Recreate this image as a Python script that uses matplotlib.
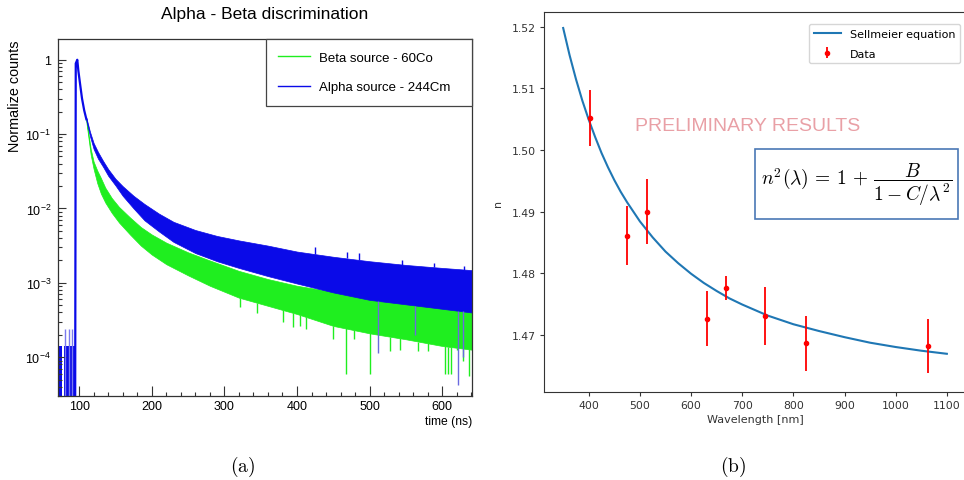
#!/usr/bin/env python3
"""Two-panel figure: alpha/beta pulse shapes (a) and Sellmeier fit of refractive index (b)."""

import matplotlib

matplotlib.use("Agg")
import matplotlib.pyplot as plt
import matplotlib.ticker as mticker
from matplotlib.patches import Rectangle
import numpy as np


# ---- panel (a): pulse shapes, values as log10(normalized counts)
rise_t = [94.6, 95.4, 97.5, 99.0, 101.0, 104.0, 107.0, 110.0]
rise_log = [-4.53, -0.05, 0.0, -0.15, -0.30, -0.52, -0.68, -0.80]

alpha_t = [110, 115, 120, 126, 133, 140, 150, 160, 175, 190, 210, 230, 260, 290, 320, 360, 400, 450, 500, 550, 600, 641]
alpha_hi = [-0.78, -0.97, -1.12, -1.24, -1.36, -1.47, -1.60, -1.70, -1.83, -1.94, -2.07, -2.18, -2.29, -2.37, -2.43,
            -2.50, -2.58, -2.65, -2.71, -2.76, -2.80, -2.83]
alpha_lo = [-0.82, -1.03, -1.20, -1.33, -1.44, -1.56, -1.69, -1.83, -2.00, -2.16, -2.31, -2.45, -2.60, -2.71, -2.80,
            -2.91, -3.01, -3.13, -3.23, -3.29, -3.35, -3.40]

beta_t = [110, 113, 116, 120, 125, 130, 136, 145, 155, 170, 185, 200, 220, 250, 280, 320, 360, 400, 450, 500, 550, 600, 641]
beta_hi = [-0.80, -1.00, -1.20, -1.37, -1.49, -1.59, -1.72, -1.86, -1.98, -2.12, -2.25, -2.35, -2.46, -2.59, -2.70,
           -2.84, -2.95, -3.04, -3.12, -3.19, -3.24, -3.28, -3.30]
beta_lo = [-0.84, -1.06, -1.28, -1.47, -1.66, -1.80, -1.92, -2.06, -2.19, -2.35, -2.50, -2.62, -2.75, -2.90, -3.04,
           -3.20, -3.31, -3.42, -3.58, -3.68, -3.76, -3.85, -3.90]

beta_spike_t = [322, 345, 381, 395, 404, 412, 450, 467, 478, 500, 528, 542, 567, 581, 604, 608, 612, 620, 629, 637]
beta_spike_log = [-3.33, -3.40, -3.53, -3.60, -3.58, -3.62, -3.76, -4.23, -3.76, -4.23, -3.92, -3.90, -3.92, -3.92,
                  -4.23, -4.23, -4.23, -3.90, -4.05, -4.25]
alpha_spike_t = [511, 563, 622, 628]
alpha_spike_log = [-3.95, -3.70, -4.37, -4.00]
alpha_peak_t = [425, 469, 485, 545, 588, 630]
alpha_peak_log = [-2.52, -2.58, -2.60, -2.70, -2.74, -2.78]

base_t0 = [71.0, 79.5]
base_t1 = [76.5, 94.6]
base_log = -3.85
base_bar_t = [81.0, 86.0, 90.0]
base_bar_log = -3.62

# ---- panel (b): refractive index vs wavelength
wl = [403, 475, 514, 632, 669, 745, 824, 1063]
n_val = [1.5052, 1.4861, 1.4900, 1.4726, 1.4776, 1.4730, 1.4686, 1.4682]
n_err = [0.0046, 0.0048, 0.0053, 0.0045, 0.0020, 0.0047, 0.0045, 0.0044]

fit_wl = [350, 362.5, 375, 387.5, 400, 412.5, 425, 437.5, 450, 462.5, 475, 500, 525, 550, 575, 600, 625, 650,
          675, 700, 725, 750, 800, 850, 900, 950, 1000, 1050, 1100]
fit_n = [1.5198, 1.5154, 1.5115, 1.5080, 1.5049, 1.5021, 1.4995, 1.4972, 1.4951, 1.4932, 1.4915, 1.4884, 1.4858,
         1.4835, 1.4816, 1.4799, 1.4784, 1.4771, 1.4759, 1.4749, 1.4740, 1.4731, 1.4717, 1.4706, 1.4696, 1.4687,
         1.4680, 1.4674, 1.4669]

GREEN = "#1fee1f"
BLUE = "#0a0ae8"


def tick_fmt(v, pos):
    e = int(round(np.log10(v)))
    return "1" if e == 0 else r"$10^{%d}$" % e


def panel_a(fig):
    ax = fig.add_axes([0.0602, 0.1746, 0.4295, 0.7422])
    ax.set_yscale("log")

    ax.fill_between(beta_t, 10 ** np.array(beta_lo), 10 ** np.array(beta_hi), color=GREEN, lw=0.5)
    lo_at = np.interp(beta_spike_t, beta_t, beta_lo)
    ax.vlines(beta_spike_t, 10 ** np.array(beta_spike_log), 10 ** lo_at, color=GREEN, lw=1.0)

    ax.fill_between(alpha_t, 10 ** np.array(alpha_lo), 10 ** np.array(alpha_hi), color=BLUE, lw=0.5)
    lo_at = np.interp(alpha_spike_t, alpha_t, alpha_lo)
    ax.vlines(alpha_spike_t, 10 ** np.array(alpha_spike_log), 10 ** lo_at, color="#6a6ae0", lw=1.0)
    hi_at = np.interp(alpha_peak_t, alpha_t, alpha_hi)
    ax.vlines(alpha_peak_t, 10 ** hi_at, 10 ** np.array(alpha_peak_log), color=BLUE, lw=1.0)

    ax.plot(rise_t, 10 ** np.array(rise_log), color=BLUE, lw=1.6)
    for t0, t1 in zip(base_t0, base_t1):
        ax.fill_between([t0, t1], 1e-6, 10 ** base_log, color=BLUE, lw=0)
    ax.vlines(base_bar_t, 1e-6, 10 ** base_bar_log, color="#7a7aee", lw=1.0)

    ax.set_xlim(71, 641)
    ax.set_ylim(3e-5, 1.9)

    ax.xaxis.set_major_locator(mticker.MultipleLocator(100))
    ax.xaxis.set_minor_locator(mticker.MultipleLocator(20))
    ax.yaxis.set_major_locator(mticker.LogLocator(base=10))
    ax.yaxis.set_minor_locator(mticker.LogLocator(base=10, subs=np.arange(2, 10)))
    ax.yaxis.set_major_formatter(mticker.FuncFormatter(tick_fmt))
    ax.yaxis.set_minor_formatter(mticker.NullFormatter())
    ax.tick_params(which="both", direction="in", top=False, right=False, labelsize=9, width=0.8, color="#333333")
    ax.tick_params(axis="x", which="major", length=7.5, pad=3)
    ax.tick_params(axis="x", which="minor", length=3.2)
    ax.tick_params(axis="y", which="major", length=6, pad=5)
    ax.tick_params(axis="y", which="minor", length=3)
    for sp in ax.spines.values():
        sp.set_color("#333333")
        sp.set_linewidth(0.9)

    ax.set_xlabel("time (ns)", fontsize=8.7, loc="right", labelpad=2)
    fig.text(15 / 964, 1 - 41 / 481, "Normalize counts", rotation=90, ha="center", va="top", fontsize=10.4)
    fig.text(265 / 964, 1 - 15 / 481, "Alpha - Beta discrimination", ha="center", va="center", fontsize=12.5)

    h = [plt.Line2D([], [], color=GREEN, lw=1.0), plt.Line2D([], [], color=BLUE, lw=1.0)]
    leg = ax.legend(h, ["Beta source - 60Co", "Alpha source - 244Cm"], loc="upper left",
                    bbox_to_anchor=(0.502, 0.0, 0.498, 1.0), mode="expand", borderaxespad=0,
                    fancybox=False, framealpha=1, edgecolor="#444444", fontsize=9.5,
                    borderpad=0.95, labelspacing=1.3, handlelength=2.4, handletextpad=0.7)
    leg.get_frame().set_linewidth(0.9)


def panel_b(fig):
    ax = fig.add_axes([0.5643, 0.1830, 0.4378, 0.790])
    ax.plot(fit_wl, fit_n, color="#1f77b4", lw=1.5, label="Sellmeier equation")
    ax.errorbar(wl, n_val, yerr=n_err, fmt="o", color="red", ms=3, elinewidth=1.3, capsize=0, label="Data")
    ax.set_xlim(312.5, 1137.5)
    ax.set_ylim(1.4607, 1.5224)
    ax.xaxis.set_major_locator(mticker.MultipleLocator(100))
    ax.yaxis.set_major_locator(mticker.MultipleLocator(0.01))
    ax.yaxis.set_major_formatter(mticker.FormatStrFormatter("%.2f"))
    ax.tick_params(labelsize=7.8, length=3, pad=3, colors="#333333")
    for sp in ax.spines.values():
        sp.set_color("#333333")
    ax.set_xlabel("Wavelength [nm]", fontsize=8, labelpad=3, color="#333333")
    ax.set_ylabel("n", fontsize=8, labelpad=6, color="#333333")
    ax.legend(loc="upper right", bbox_to_anchor=(0.986, 0.968), borderaxespad=0, fontsize=8,
              labelspacing=0.9, handlelength=2.5)

    ax.text(0.482, 0.700, "PRELIMINARY RESULTS", transform=ax.transAxes, ha="center", va="center",
            fontsize=14, color="#e9a0a6", family="Liberation Sans")
    ax.add_patch(Rectangle((0.500, 0.455), 0.481, 0.184, transform=ax.transAxes, facecolor="white",
                           edgecolor="#4a78b5", linewidth=1.2, zorder=3))
    ax.text(0.7405, 0.547, r"$n^2(\lambda)\,=\,1\,+\,\dfrac{B}{1 - C/\lambda^2}$", transform=ax.transAxes,
            ha="center", va="center", fontsize=14, math_fontfamily="cm", zorder=4)


def main():
    plt.rcParams.update(
        {
            "font.family": ["Liberation Sans", "DejaVu Sans"],
            "mathtext.fontset": "custom",
            "mathtext.rm": "Liberation Sans",
            "mathtext.it": "Liberation Sans:italic",
            "mathtext.bf": "Liberation Sans:bold",
        }
    )
    fig = plt.figure(figsize=(9.64, 4.81), dpi=100)
    panel_a(fig)
    with plt.rc_context({"font.family": ["DejaVu Sans"]}):
        panel_b(fig)
    fig.text(243 / 964, 1 - 467 / 481, r"$\mathrm{(a)}$", ha="center", va="center", fontsize=14, math_fontfamily="cm")
    fig.text(733 / 964, 1 - 467 / 481, r"$\mathrm{(b)}$", ha="center", va="center", fontsize=14, math_fontfamily="cm")
    fig.savefig("out.png", dpi=100)


if __name__ == "__main__":
    main()
